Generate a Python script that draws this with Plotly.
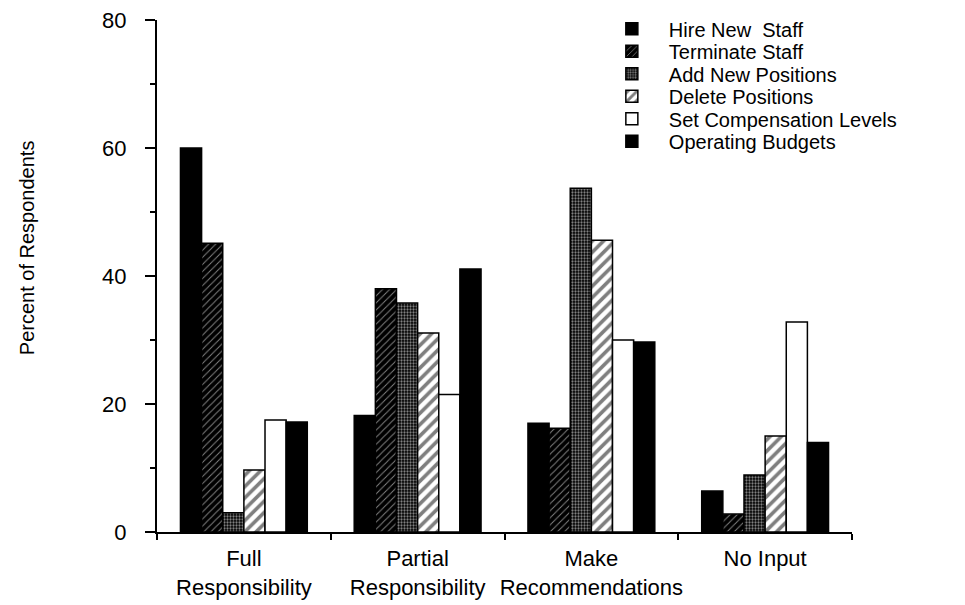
import plotly.graph_objects as go

categories = ["Full<br>Responsibility", "Partial<br>Responsibility", "Make<br>Recommendations", "No Input"]
series_names = ["Hire New  Staff", "Terminate Staff", "Add New Positions", "Delete Positions",
                "Set Compensation Levels", "Operating Budgets"]
hire_new_staff = [60.0, 18.2, 17.0, 6.4]
terminate_staff = [45.1, 38.0, 16.2, 2.8]
add_new_positions = [3.0, 35.8, 53.7, 8.9]
delete_positions = [9.7, 31.1, 45.6, 15.0]
set_compensation = [17.5, 21.5, 30.0, 32.8]
operating_budgets = [17.2, 41.1, 29.7, 14.0]
y_ticks = [0, 20, 40, 60, 80]
y_title = "Percent of Respondents"

values = [hire_new_staff, terminate_staff, add_new_positions, delete_positions,
          set_compensation, operating_budgets]

styles = [
    dict(color="black"),
    dict(color="black", pattern=dict(shape="/", fgcolor="white", bgcolor="black", size=5, solidity=0.2)),
    dict(color="black", pattern=dict(shape=".", fgcolor="white", bgcolor="black", size=3, solidity=0.45)),
    dict(color="white", pattern=dict(shape="/", fgcolor="black", bgcolor="white", size=8, solidity=0.45)),
    dict(color="white"),
    dict(color="black"),
]
legend_ids = ["legend", "legend2", "legend3", "legend4", "legend5", "legend6"]
legend_rows = [0.983, 0.939, 0.895, 0.851, 0.807, 0.763]

fig = go.Figure()
for name, vals, st, lid in zip(series_names, values, styles, legend_ids):
    marker = dict(line=dict(color="black", width=1.5))
    marker.update(st)
    fig.add_trace(go.Bar(name=name, x=categories, y=vals, marker=marker, legend=lid))

leg_common = dict(x=0.630, xanchor="left", yanchor="middle", font=dict(size=20),
                  bgcolor="rgba(0,0,0,0)", itemwidth=64, borderwidth=0)
layout_legends = {}
for lid, ypos in zip(legend_ids, legend_rows):
    layout_legends[lid] = dict(leg_common, y=ypos)

fig.update_layout(
    width=965, height=605,
    barmode="group", bargap=0.27, bargroupgap=0,
    plot_bgcolor="white", paper_bgcolor="white",
    margin=dict(l=149, r=121, t=12, b=81, autoexpand=False),
    font=dict(family="Liberation Sans, Arial, sans-serif", color="black", size=22),
    showlegend=True,
    **layout_legends,
)
fig.add_annotation(text=y_title, textangle=-90, xref="paper", yref="paper",
                   x=-0.188, y=0.555, showarrow=False, font=dict(size=20),
                   xanchor="center", yanchor="middle")
fig.update_xaxes(type="category", showline=True, linecolor="black", linewidth=2,
                 ticks="outside", tickson="boundaries", ticklen=6, tickwidth=2, tickcolor="black",
                 showgrid=False, tickfont=dict(size=22), tickangle=0, automargin=False,
                 ticklabelstandoff=6, ticklabeloverflow="allow")
fig.update_yaxes(range=[0, 80], tickvals=y_ticks, showline=True, linecolor="black", linewidth=2,
                 ticks="outside", ticklen=10, tickwidth=2, tickcolor="black", showgrid=False,
                 zeroline=False, tickfont=dict(size=22), ticklabelstandoff=14, automargin=False,
                 ticklabeloverflow="allow",
                 minor=dict(ticks="outside", ticklen=5, tickwidth=2, tickcolor="black", dtick=10))

fig.write_html("out.html")
